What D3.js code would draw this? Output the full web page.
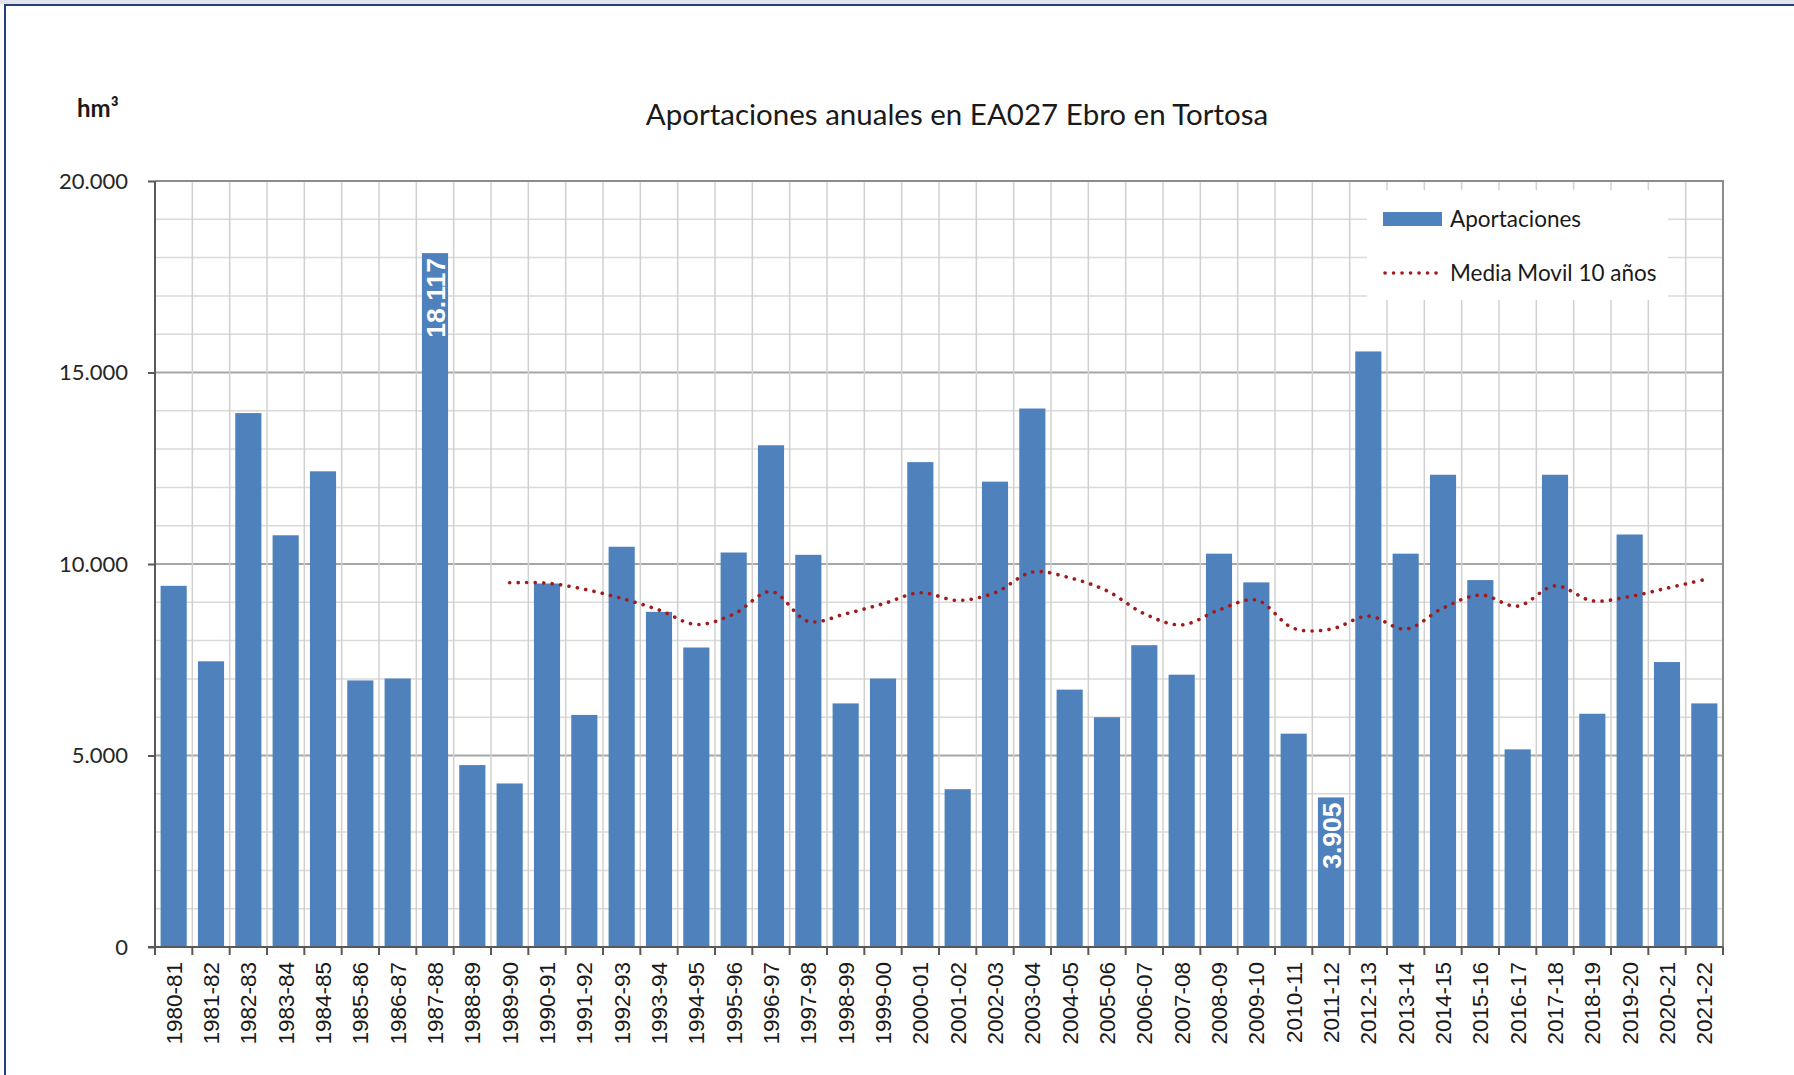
<!DOCTYPE html>
<meta charset="utf-8">
<style>
    body { margin: 0; background: #fff; }
    svg { display: block; }
    .axis path, .axis line { stroke: #595959; }
</style>
<body>
<script src="https://cdn.jsdelivr.net/npm/d3@7"></script>
<script>
    // data
    var years = ["1980-81","1981-82","1982-83","1983-84","1984-85","1985-86","1986-87","1987-88","1988-89","1989-90",
        "1990-91","1991-92","1992-93","1993-94","1994-95","1995-96","1996-97","1997-98","1998-99","1999-00",
        "2000-01","2001-02","2002-03","2003-04","2004-05","2005-06","2006-07","2007-08","2008-09","2009-10",
        "2010-11","2011-12","2012-13","2013-14","2014-15","2015-16","2016-17","2017-18","2018-19","2019-20",
        "2020-21","2021-22"];
    var aportaciones = [9430, 7460, 13940, 10750, 12420, 6960, 7010, 18117, 4750, 4270,
        9490, 6060, 10450, 8750, 7820, 10300, 13100, 10240, 6360, 7010,
        12660, 4120, 12150, 14060, 6720, 6000, 7880, 7110, 10270, 9520,
        5570, 3905, 15550, 10270, 12330, 9580, 5160, 12330, 6090, 10770,
        7440, 6360];
    // 10 year moving average, starts at 1989-90
    var mediaYears = years.slice(9);
    var mediaMovil = [9510, 9500, 9340, 9100, 8800, 8420, 8690, 9280, 8500, 8700,
        8960, 9250, 9050, 9250, 9790, 9640, 9300, 8700, 8410, 8800,
        9060, 8320, 8300, 8640, 8300, 8850, 9190, 8900, 9430, 9040,
        9150, 9370, 9590];
    var labelled = ["1987-88", "2011-12"];
    var yTicks = [0, 5000, 10000, 15000, 20000];

    var W = 1794, H = 1075;
    var pLeft = 155, pRight = 1723, pTop = 181, pBottom = 947;

    var fmt = d3.formatLocale({ thousands: ".", grouping: [3], decimal: ",", currency: ["", ""] }).format(",d");

    var svg = d3.select("body").append("svg")
        .attr("width", W)
        .attr("height", H);

    // outer frame
    svg.append("rect").attr("x", 0).attr("y", 0).attr("width", W).attr("height", 4).attr("fill", "#e1e4ea");
    svg.append("rect")
        .attr("x", 5).attr("y", 5)
        .attr("width", W).attr("height", H)
        .attr("fill", "none")
        .attr("stroke", "#24407a")
        .attr("stroke-width", 2);

    var x = d3.scaleBand()
        .domain(years)
        .range([pLeft, pRight])
        .paddingInner(0.3)
        .paddingOuter(0.15);

    var y = d3.scaleLinear()
        .domain([0, 20000])
        .range([pBottom, pTop]);

    var gap = (x.step() - x.bandwidth()) / 2;

    // horizontal gridlines
    svg.append("g").selectAll("line")
        .data(d3.range(1000, 20001, 1000))
        .enter().append("line")
        .attr("x1", pLeft).attr("x2", pRight)
        .attr("y1", function (d) { return y(d); })
        .attr("y2", function (d) { return y(d); })
        .attr("stroke", function (d) { return d % 5000 === 0 ? "#a6a6a6" : "#dadada"; })
        .attr("stroke-width", function (d) { return d % 5000 === 0 ? 2 : 1.5; });

    // vertical gridlines at category boundaries
    svg.append("g").selectAll("line")
        .data(years.slice(1))
        .enter().append("line")
        .attr("x1", function (d) { return x(d) - gap; })
        .attr("x2", function (d) { return x(d) - gap; })
        .attr("y1", pTop).attr("y2", pBottom)
        .attr("stroke", "#d0d0d0")
        .attr("stroke-width", 1.5);

    // plot border top/right
    svg.append("path")
        .attr("d", "M" + pLeft + "," + pTop + "H" + pRight + "V" + pBottom)
        .attr("fill", "none")
        .attr("stroke", "#8c8c8c")
        .attr("stroke-width", 2);

    // bars
    svg.append("g").selectAll("rect")
        .data(years)
        .enter().append("rect")
        .attr("x", function (d) { return x(d); })
        .attr("width", x.bandwidth())
        .attr("y", function (d, i) { return y(aportaciones[i]); })
        .attr("height", function (d, i) { return pBottom - y(aportaciones[i]); })
        .attr("fill", "#4f81bd");

    // value labels inside the highest and lowest bars
    svg.append("g").selectAll("text")
        .data(labelled)
        .enter().append("text")
        .attr("transform", function (d) {
            var v = aportaciones[years.indexOf(d)];
            return "translate(" + (x(d) + x.bandwidth() / 2) + "," + (y(v) + 5) + ") rotate(-90)";
        })
        .attr("text-anchor", "end")
        .attr("dy", "0.36em")
        .attr("fill", "#fff")
        .style("font", "bold 26.5px 'Liberation Sans', Arial, sans-serif")
        .text(function (d) { return fmt(aportaciones[years.indexOf(d)]); });

    // moving average
    var lineGenerator = d3.line()
        .x(function (d, i) { return x(mediaYears[i]) + x.bandwidth() / 2; })
        .y(function (d) { return y(d); })
        .curve(d3.curveCatmullRom.alpha(0.5));

    svg.append("path")
        .attr("d", lineGenerator(mediaMovil))
        .attr("fill", "none")
        .attr("stroke", "#a01c1c")
        .attr("stroke-width", 3.6)
        .attr("stroke-linecap", "round")
        .attr("stroke-dasharray", "0.1 8.4");

    // Y axis
    var yAxis = d3.axisLeft(y)
        .tickValues(yTicks)
        .tickSize(7)
        .tickPadding(20)
        .tickFormat(fmt);

    var gy = svg.append("g")
        .attr("class", "axis")
        .attr("transform", "translate(" + pLeft + ",0)")
        .call(yAxis);
    gy.select(".domain").attr("stroke-width", 2).attr("d", "M0," + pTop + "V" + pBottom);
    gy.selectAll(".tick line").attr("stroke-width", 2);
    gy.selectAll("text")
        .attr("fill", "#262626")
        .style("font", "22px Lato, sans-serif");

    // X axis: labels centred, ticks at boundaries
    var xAxis = d3.axisBottom(x).tickSize(0).tickPadding(0);
    var gx = svg.append("g")
        .attr("class", "axis")
        .attr("transform", "translate(0," + pBottom + ")")
        .call(xAxis);
    gx.select(".domain").attr("stroke-width", 2).attr("d", "M" + (pLeft - 7) + ",0H" + pRight);
    gx.selectAll("text")
        .attr("transform", "rotate(-90)")
        .attr("text-anchor", "end")
        .attr("x", -15)
        .attr("y", 0)
        .attr("dy", "0.35em")
        .attr("fill", "#1a1a1a")
        .style("font", "22.5px 'Liberation Sans', Arial, sans-serif");
    gx.append("g").selectAll("line")
        .data(years.concat(["end"]))
        .enter().append("line")
        .attr("x1", function (d) { return d === "end" ? pRight : x(d) - gap; })
        .attr("x2", function (d) { return d === "end" ? pRight : x(d) - gap; })
        .attr("y1", 0).attr("y2", 8)
        .attr("stroke", "#595959")
        .attr("stroke-width", 2);

    // title and unit
    svg.append("text")
        .attr("x", 957).attr("y", 125)
        .attr("text-anchor", "middle")
        .attr("fill", "#1a1a1a")
        .style("font", "29.5px Lato, sans-serif")
        .text("Aportaciones anuales en EA027 Ebro en Tortosa");

    svg.append("text")
        .attr("x", 77).attr("y", 117)
        .attr("fill", "#1a1a1a")
        .style("font", "bold 24px Lato, sans-serif")
        .text("hm³");

    // legend
    var legend = svg.append("g");
    legend.append("rect")
        .attr("x", 1367).attr("y", 190)
        .attr("width", 301).attr("height", 110)
        .attr("fill", "#fff");
    legend.append("rect")
        .attr("x", 1383).attr("y", 212)
        .attr("width", 59).attr("height", 14)
        .attr("fill", "#4f81bd");
    legend.append("line")
        .attr("x1", 1385).attr("x2", 1442)
        .attr("y1", 273).attr("y2", 273)
        .attr("stroke", "#a01c1c")
        .attr("stroke-width", 3.6)
        .attr("stroke-linecap", "round")
        .attr("stroke-dasharray", "0.1 8.4");
    legend.selectAll(".lt")
        .data(["Aportaciones", "Media Movil 10 años"])
        .enter().append("text")
        .attr("x", 1450)
        .attr("y", function (d, i) { return 227 + i * 54; })
        .attr("fill", "#1a1a1a")
        .style("font", "22.5px Lato, sans-serif")
        .text(function (d) { return d; });
</script>
</body>
